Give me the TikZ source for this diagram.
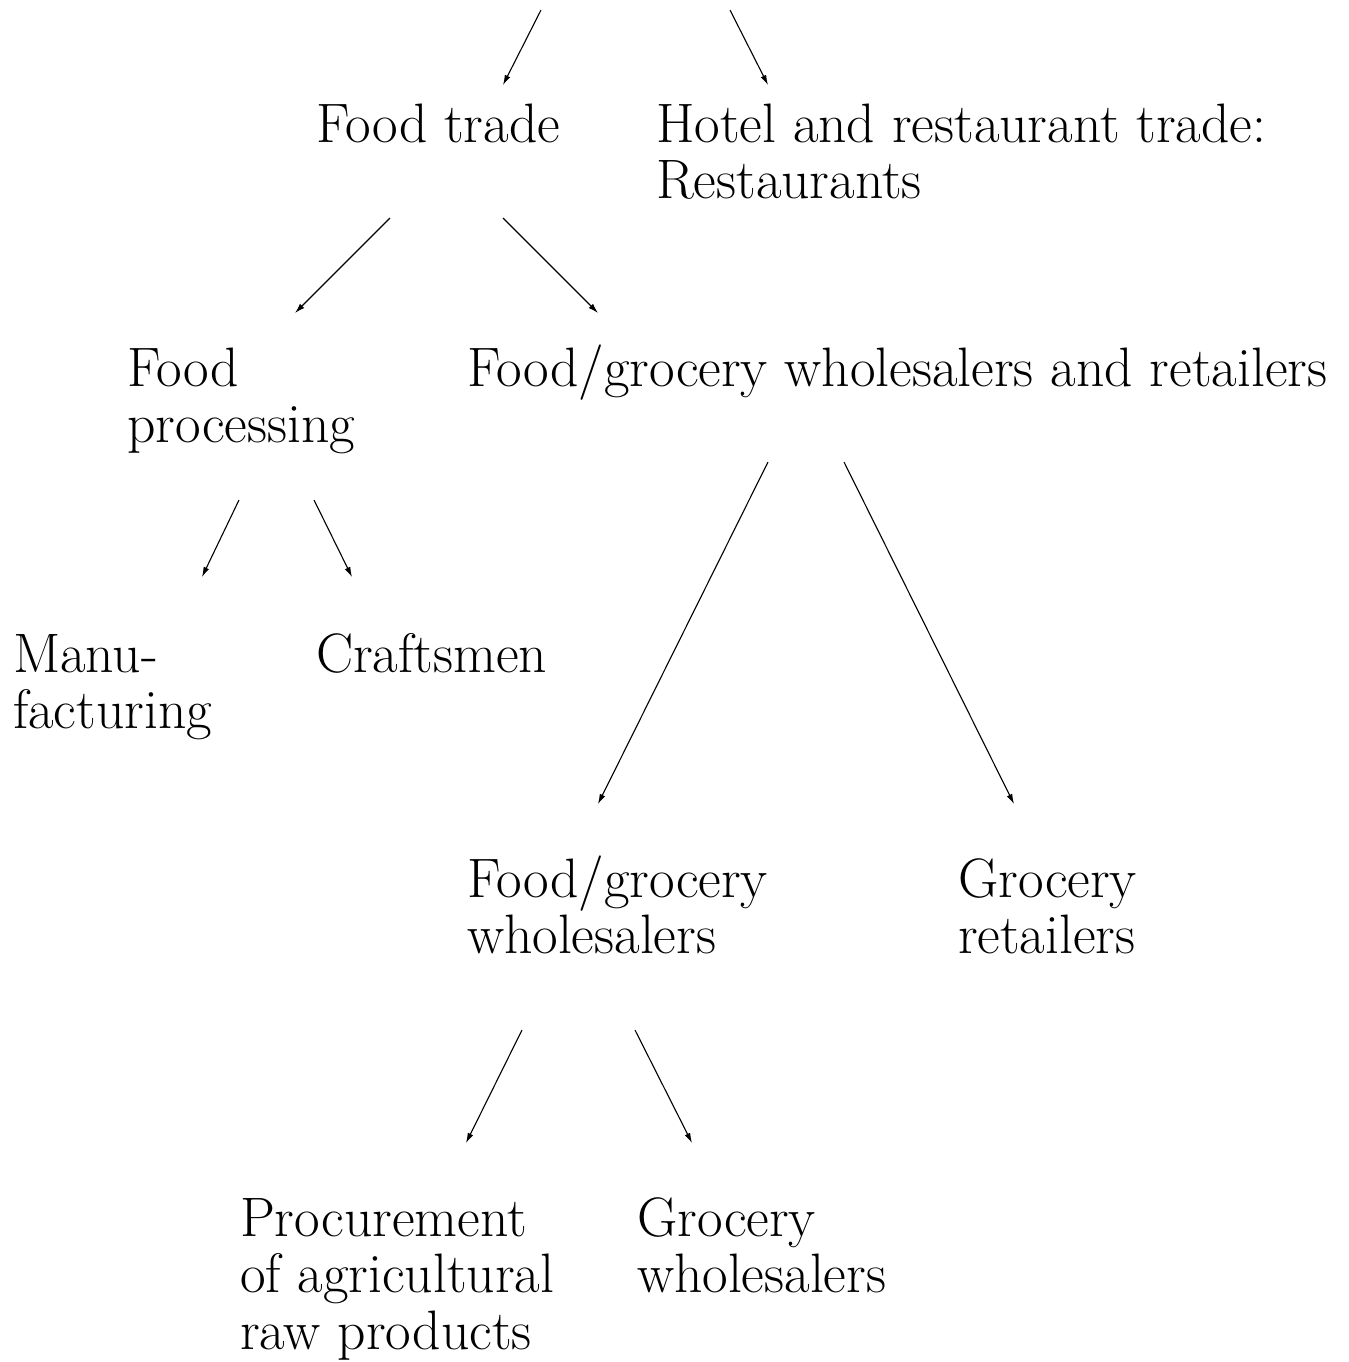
\documentclass[tikz,border=0pt]{standalone}
\usetikzlibrary{arrows.meta,calc}
\begin{document}
\begin{tikzpicture}[x=0.5pt,y=-0.5pt,
  lbl/.style={anchor=base west,inner sep=0pt,outer sep=0pt,align=left,
    font=\fontsize{27.8}{28.25}\selectfont},
  arr/.style={-{Latex[length=5pt,width=3pt]},line width=0.55pt}]
\useasboundingbox (0,0) rectangle (1349,1362);
\coordinate (top1) at (541,10);
\coordinate (top2) at (730,10);
% multi-line nodes are placed by the baseline of their last line
\node[lbl] (ft) at (316,142) {Food trade};
\node[lbl] (ht) at (656,198.5) {Hotel and restaurant trade:\\Restaurants};
\node[lbl] (fp) at (127,442.5) {Food\\processing};
\node[lbl] (fgwr) at (467,386) {Food/grocery wholesalers and retailers};
\node[lbl] (mf) at (13,728.5) {Manu-\\facturing};
\node[lbl] (cr) at (316,672) {Craftsmen};
\node[lbl] (fgw) at (467,953.5) {Food/grocery\\wholesalers};
\node[lbl] (gr) at (958,953.5) {Grocery\\retailers};
\node[lbl] (pr) at (240,1349) {Procurement\\of agricultural\\raw products};
\node[lbl] (gw) at (637,1292.5) {Grocery\\wholesalers};
\draw[arr] (top1) -- ($(ft.base west)+(187,-57)$);
\draw[arr] (top2) -- ($(ht.base west)+(112,-113.5)$);
\draw[arr] ($(ft.base west)+(74,76)$) -- ($(fp.base west)+(168,-129.5)$);
\draw[arr] ($(ft.base west)+(187,76)$) -- ($(fgwr.base west)+(131,-73)$);
\draw[arr] ($(fp.base west)+(112,57.5)$) -- ($(mf.base west)+(189,-151.5)$);
\draw[arr] ($(fp.base west)+(187,57.5)$) -- ($(cr.base west)+(36,-95)$);
\draw[arr] ($(fgwr.base west)+(301,76)$) -- ($(fgw.base west)+(131,-149.5)$);
\draw[arr] ($(fgwr.base west)+(377,76)$) -- ($(gr.base west)+(56,-149.5)$);
\draw[arr] ($(fgw.base west)+(55,76.5)$) -- ($(pr.base west)+(226,-206)$);
\draw[arr] ($(fgw.base west)+(168,76.5)$) -- ($(gw.base west)+(55,-149.5)$);
\end{tikzpicture}
\end{document}
